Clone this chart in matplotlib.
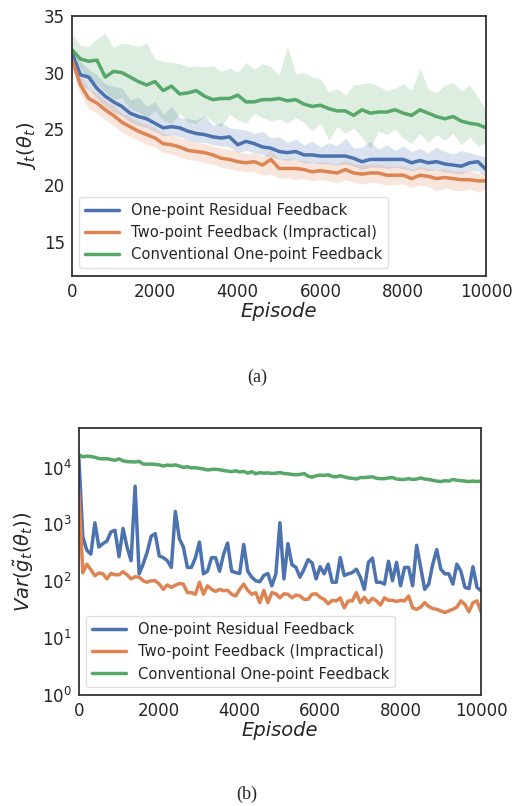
import numpy as np
import matplotlib
matplotlib.use("Agg")
import matplotlib.pyplot as plt
import seaborn as sns

sns.set_style("white")
plt.rcParams['font.family'] = ['DejaVu Sans']
plt.rcParams['mathtext.fontset'] = 'dejavusans'

# ---- (a) J_t(theta_t): mean curves and bands, every 200 episodes ----
ep_a = np.arange(0, 10001, 200)

res_mean = [31.7, 29.8, 29.6, 28.6, 27.9, 27.4, 27.0, 26.4, 26.1, 25.9, 25.5,
            25.1, 25.2, 25.1, 24.8, 24.6, 24.5, 24.3, 24.2, 24.3, 23.6,
            23.9, 23.7, 23.4, 23.3, 23.0, 22.9, 23.0, 22.7, 22.7, 22.6,
            22.6, 22.6, 22.6, 22.4, 22.1, 22.3, 22.3, 22.3, 22.3, 22.3,
            22.0, 22.2, 22.0, 22.1, 21.9, 21.8, 21.7, 22.0, 22.1, 21.4]
res_low = [31.0, 28.9, 28.5, 27.7, 27.0, 26.5, 26.2, 25.6, 25.3, 25.1, 24.8,
           24.4, 24.5, 24.3, 24.0, 23.8, 23.8, 23.6, 23.5, 23.4, 22.9,
           23.1, 22.9, 22.7, 22.5, 22.3, 22.2, 22.3, 22.0, 22.0, 21.9,
           21.9, 21.8, 21.9, 21.7, 21.4, 21.6, 21.6, 21.5, 21.6, 21.5,
           21.3, 21.5, 21.3, 21.4, 21.2, 21.1, 21.0, 21.3, 21.3, 20.7]
res_high = [32.3, 31.0, 30.3, 29.8, 29.0, 28.8, 28.6, 27.6, 27.8, 27.0, 27.4,
            26.3, 27.0, 26.0, 25.9, 25.8, 26.2, 25.3, 25.6, 25.1, 25.0,
            24.9, 24.6, 24.8, 24.2, 24.3, 23.8, 24.1, 23.6, 23.9, 23.4,
            23.8, 23.5, 24.2, 23.3, 23.4, 23.9, 23.2, 23.6, 23.1, 23.5,
            23.0, 23.3, 22.9, 23.4, 23.0, 22.8, 23.1, 22.9, 22.7, 22.5]

two_mean = [31.1, 28.9, 27.7, 27.3, 26.7, 26.2, 25.6, 25.2, 24.8, 24.5, 24.2,
            23.7, 23.6, 23.4, 23.1, 23.0, 22.9, 22.7, 22.4, 22.3, 22.1,
            22.0, 22.1, 21.8, 22.3, 21.5, 21.5, 21.5, 21.4, 21.2, 21.3,
            21.2, 21.1, 21.4, 21.1, 21.0, 21.1, 21.1, 20.9, 20.9, 20.9,
            20.6, 20.9, 20.8, 20.6, 20.7, 20.6, 20.5, 20.5, 20.4, 20.4]
two_low = [30.5, 28.1, 26.8, 26.4, 25.8, 25.3, 24.7, 24.3, 24.0, 23.6, 23.4,
           22.9, 22.8, 22.5, 22.3, 22.2, 22.0, 21.9, 21.6, 21.5, 21.3,
           21.2, 21.2, 20.9, 21.0, 20.6, 20.7, 20.5, 20.6, 20.4, 20.5,
           20.4, 20.2, 20.5, 20.3, 20.1, 20.3, 20.2, 20.0, 20.1, 20.1,
           19.8, 20.0, 19.9, 19.5, 19.8, 19.6, 19.5, 19.7, 19.4, 19.7]
two_high = [31.8, 29.8, 28.6, 28.2, 27.5, 27.1, 26.4, 26.1, 25.6, 25.4, 25.1,
            24.6, 24.5, 24.2, 24.0, 23.8, 23.7, 23.5, 23.3, 23.2, 23.0,
            22.8, 22.9, 22.6, 23.1, 22.3, 22.4, 22.3, 22.2, 22.0, 22.1,
            22.0, 21.9, 22.2, 21.9, 21.8, 21.9, 21.9, 21.7, 21.7, 21.7,
            21.4, 21.7, 21.5, 21.4, 21.5, 21.3, 21.2, 21.3, 21.1, 21.1]

conv_mean = [32.0, 31.2, 31.0, 31.1, 29.6, 30.1, 30.0, 29.6, 29.2, 28.9, 29.2,
             28.4, 28.8, 28.1, 28.2, 28.4, 27.9, 27.6, 27.7, 27.7, 28.0,
             27.4, 27.4, 27.6, 27.6, 27.7, 27.5, 27.6, 27.2, 27.0, 27.1,
             26.8, 26.6, 26.6, 26.2, 26.7, 26.4, 26.5, 26.5, 26.7, 26.4,
             26.2, 26.7, 26.4, 26.1, 25.9, 26.1, 25.7, 25.5, 25.4, 25.1]
conv_low = [31.6, 30.3, 29.5, 29.0, 28.3, 27.6, 27.8, 26.8, 26.5, 26.0, 26.6,
            25.8, 25.5, 26.4, 25.6, 25.5, 26.2, 25.6, 25.2, 26.3, 25.8,
            25.5, 26.4, 26.0, 25.7, 25.9, 25.5, 26.0, 25.6, 24.8, 25.5,
            24.0, 25.2, 24.6, 25.1, 24.3, 23.3, 24.8, 24.5, 25.0, 24.2,
            23.7, 24.6, 23.8, 24.5, 24.0, 24.6, 23.6, 24.3, 23.5, 23.8]
conv_high = [33.4, 32.4, 32.3, 33.0, 33.5, 32.2, 32.6, 32.5, 32.3, 32.6, 31.2,
             31.0, 30.9, 30.8, 30.5, 30.6, 30.5, 30.6, 30.1, 30.4, 30.0,
             30.9, 30.3, 30.8, 30.5, 29.8, 32.3, 29.9, 30.0, 29.6, 29.4,
             28.3, 28.6, 28.0, 28.9, 29.0, 29.1, 28.8, 28.4, 28.6, 29.0,
             28.4, 30.4, 28.5, 28.2, 28.9, 29.1, 28.4, 28.9, 27.8, 26.6]

# ---- (b) variance of gradient estimate, every 100 episodes ----
ep_b = np.arange(0, 10001, 100)

res_var = [16000, 600, 350, 300, 1070, 400, 460, 510, 740, 790,
           270, 850, 400, 230, 4700, 135, 200, 325, 620, 690,
           280, 260, 230, 175, 1700, 560, 400, 175, 175, 260,
           490, 135, 150, 260, 260, 150, 300, 470, 150, 142,
           137, 445, 150, 118, 102, 98, 126, 137, 83, 135,
           1070, 110, 460, 195, 175, 118, 163, 240, 210, 110,
           180, 135, 200, 96, 96, 260, 126, 135, 142, 163,
           118, 72, 215, 255, 96, 96, 89, 225, 102, 215,
           83, 175, 175, 83, 430, 175, 72, 89, 200, 360,
           163, 135, 135, 89, 200, 150, 78, 74, 180, 78,
           68]
two_var = [4100, 140, 200, 160, 125, 140, 135, 110, 137, 130,
           130, 147, 130, 110, 120, 118, 102, 96, 102, 102,
           89, 72, 86, 78, 85, 91, 89, 63, 63, 59,
           96, 59, 83, 72, 66, 72, 68, 69, 59, 55,
           72, 89, 69, 59, 63, 42, 69, 42, 63, 60,
           51, 60, 59, 51, 57, 55, 48, 48, 59, 60,
           52, 48, 40, 46, 45, 51, 34, 45, 45, 63,
           42, 52, 42, 50, 45, 38, 51, 46, 46, 44,
           46, 45, 55, 34, 32, 35, 42, 36, 33, 32,
           30, 28, 30, 32, 35, 45, 39, 29, 42, 45,
           29]
conv_var = [17000, 15500, 16000, 15700, 15200, 14500, 14300, 14400, 13900, 13500,
            14300, 13200, 12800, 12700, 12600, 12900, 11600, 11500, 11600, 11400,
            11200, 10700, 11100, 10900, 11200, 10700, 10100, 10400, 9900, 10000,
            9700, 9500, 9100, 9300, 9400, 9200, 8900, 8700, 8500, 8800,
            8400, 8600, 8000, 8500, 7800, 8200, 8000, 8100, 7900, 8000,
            8200, 7900, 7800, 7600, 7500, 7600, 7900, 7100, 6800, 7200,
            7400, 7300, 7500, 7000, 6900, 7200, 6900, 6600, 6500, 6300,
            6700, 6700, 6800, 6900, 6500, 6400, 6400, 6600, 6700, 6300,
            6200, 6200, 6400, 6200, 6300, 6600, 6300, 6200, 6000, 5800,
            5700, 5900, 5800, 6200, 6000, 5900, 5800, 5700, 5800, 5700,
            5800]

labels = ['One-point Residual Feedback', 'Two-point Feedback (Impractical)',
          'Conventional One-point Feedback']
colors = sns.color_palette('deep')[:3]

fig = plt.figure(figsize=(5.15, 8.06), dpi=100)
ax1 = fig.add_axes([0.140, 0.658, 0.804, 0.322])
ax2 = fig.add_axes([0.153, 0.138, 0.781, 0.331])

series_a = [(res_mean, res_low, res_high), (two_mean, two_low, two_high),
            (conv_mean, conv_low, conv_high)]
for (m, lo, hi), c, lab in zip(series_a, colors, labels):
    ax1.fill_between(ep_a, lo, hi, color=c, alpha=0.2, linewidth=0)
    ax1.plot(ep_a, m, color=c, lw=2.5, label=lab)

for v, c, lab in zip([res_var, two_var, conv_var], colors, labels):
    ax2.plot(ep_b, v, color=c, lw=2.5, label=lab)
ax2.set_yscale('log')
ax2.set_ylim(1, 5e4)
ax2.set_yticks([1, 10, 100, 1000, 10000])
ax2.minorticks_off()

ax1.set_ylim(12, 35)
ax1.set_yticks([15, 20, 25, 30, 35])
ax1.set_ylabel(r'$J_t(\theta_t)$', fontsize=14)
ax2.set_ylabel(r'$Var(\tilde{g}_t(\theta_t))$', fontsize=14)

for ax in (ax1, ax2):
    ax.set_xlim(0, 10000)
    ax.set_xticks([0, 2000, 4000, 6000, 8000, 10000])
    ax.tick_params(labelsize=12, length=0, pad=5)
    ax.set_xlabel('Episode', fontsize=14, style='italic', labelpad=1)
    for s in ax.spines.values():
        s.set_color('0.2')
        s.set_linewidth(1.3)
    leg = ax.legend(loc='lower left', fontsize=10.6, handlelength=2.3,
                    frameon=True, framealpha=0.8, edgecolor='0.85')

fig.text(0.499, 0.532, '(a)', ha='center', va='center', fontsize=13,
         family='Liberation Serif')
fig.text(0.48, 0.014, '(b)', ha='center', va='center', fontsize=13,
         family='Liberation Serif')

fig.savefig('out.png', dpi=100)
